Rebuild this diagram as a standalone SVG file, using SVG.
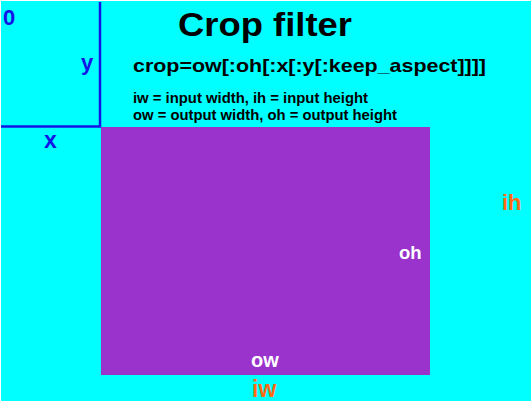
<svg xmlns="http://www.w3.org/2000/svg" width="531" height="401" viewBox="0 0 531 401">
<style>
text{font-family:"Liberation Sans",Arial,sans-serif;font-weight:bold;}
.blue{fill:#1414E6;}
.orange{fill:#FF6A14;}
.white{fill:#FFFFFF;}
.black{fill:#000000;}
</style>
<rect x="0" y="0" width="531" height="401" fill="#ffffff"/>
<rect x="1" y="1" width="530" height="400" fill="#00FFFF"/>
<g id="output">
<rect x="101" y="127" width="329" height="248" fill="#9933CC"/>
<text class="white" x="399" y="259" font-size="18.5">oh</text>
<text class="white" x="251" y="367" font-size="20">ow</text>
</g>
<g id="offsets">
<line x1="100" y1="2" x2="100" y2="127" stroke="#1414E6" stroke-width="2.5"/>
<line x1="1" y1="126.5" x2="101" y2="126.5" stroke="#1414E6" stroke-width="2.5"/>
<text class="blue" x="3" y="25" font-size="22">0</text>
<text class="blue" x="81" y="70" font-size="22">y</text>
<text class="blue" x="44" y="148" font-size="23">x</text>
</g>
<g id="input">
<text class="orange" x="502" y="210" font-size="22">ih</text>
<text class="orange" x="252" y="397" font-size="23">iw</text>
</g>
<g id="title">
<text class="black" x="178" y="36" font-size="34" textLength="174" lengthAdjust="spacingAndGlyphs">Crop filter</text>
<text class="black" x="133" y="72" font-size="19" textLength="353" lengthAdjust="spacingAndGlyphs">crop=ow[:oh[:x[:y[:keep_aspect]]]]</text>
<text class="black" x="133" y="103" font-size="14" textLength="235" lengthAdjust="spacingAndGlyphs">iw = input width, ih = input height</text>
<text class="black" x="133" y="120" font-size="14" textLength="264" lengthAdjust="spacingAndGlyphs">ow = output width, oh = output height</text>
</g>
</svg>
